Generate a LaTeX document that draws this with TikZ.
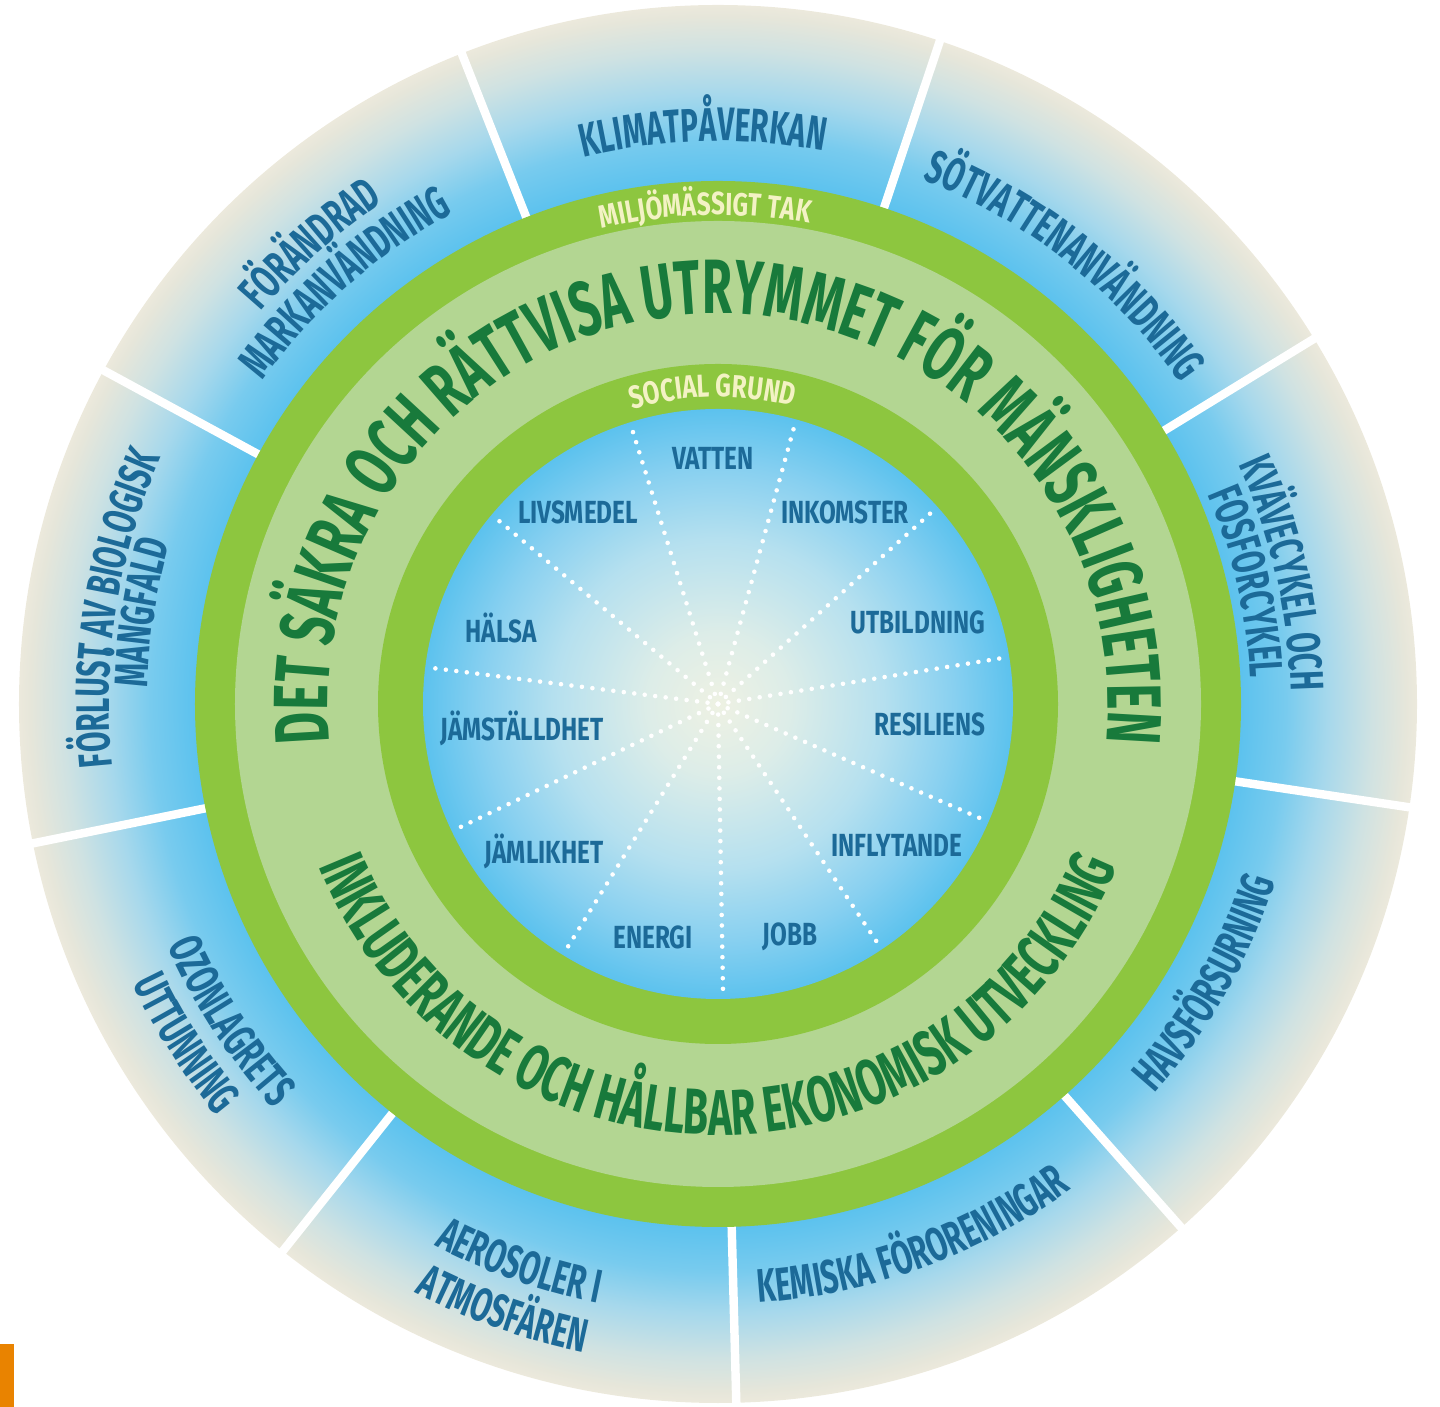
\documentclass[tikz,border=0pt]{standalone}
\usepackage{fontspec}
\setmainfont{Fira Sans}
\newfontfamily\slimfont{Fira Sans}[FakeStretch=0.63]
\newfontfamily\midfont{Fira Sans}[FakeStretch=0.76]
\usepackage{tikz}
\usetikzlibrary{decorations.text}

\definecolor{skyblue}{HTML}{5CC2EE}
\definecolor{skyblue2}{HTML}{78CBEE}
\definecolor{skyblue3}{HTML}{A6D8EC}
\definecolor{haze}{HTML}{CFE2E2}
\definecolor{haze2}{HTML}{E6E6DA}
\definecolor{sand}{HTML}{ECE9DC}
\definecolor{core}{HTML}{EEF1E3}
\definecolor{core2}{HTML}{DDEDE8}
\definecolor{mist}{HTML}{B5E0EF}
\definecolor{mist2}{HTML}{88D0F0}
\definecolor{leafgreen}{HTML}{8DC63F}
\definecolor{palegreen}{HTML}{B3D692}
\definecolor{forestgreen}{HTML}{187A3B}
\definecolor{inkblue}{HTML}{1C6A98}
\definecolor{cream}{HTML}{F3F2C4}
\definecolor{taborange}{HTML}{E98300}

\pgfdeclareradialshading{boundshade}{\pgfpoint{0bp}{0bp}}{color(0bp)=(skyblue); color(18.7bp)=(skyblue); color(20.3bp)=(skyblue2); color(21.8bp)=(skyblue3); color(23.4bp)=(haze); color(24.6bp)=(haze2); color(25bp)=(sand); color(50bp)=(sand)}
\pgfdeclareradialshading{socialshade}{\pgfpoint{0bp}{0bp}}{color(0bp)=(core); color(6bp)=(core2); color(14bp)=(mist); color(20bp)=(mist2); color(25bp)=(skyblue); color(50bp)=(skyblue)}

\newcommand{\bndfont}{\slimfont\bfseries\fontsize{13.4}{14}\selectfont\color{inkblue}}
\newcommand{\safefont}{\slimfont\bfseries\fontsize{21.9}{22}\selectfont\color{forestgreen}}
\newcommand{\econfont}{\slimfont\bfseries\fontsize{18.4}{19}\selectfont\color{forestgreen}}
\newcommand{\bandfont}{\midfont\bfseries\fontsize{9.1}{10}\selectfont\color{cream}}

\newcommand{\cwtext}[4]{\path[decorate,decoration={text along path,text align=center,text={|#3|#4}}] ({#1+100}:#2) arc[start angle={#1+100},delta angle=-200,radius=#2];}
\newcommand{\ccwtext}[4]{\path[decorate,decoration={text along path,text align=center,text={|#3|#4}}] ({#1-80}:#2) arc[start angle={#1-80},delta angle=160,radius=#2];}

\tikzset{
    divider/.style={white, line width=2.4pt},
    ray/.style={white, line width=1.3pt, line cap=round, dash pattern=on 0pt off 3pt},
    goal/.style={inkblue, inner sep=0pt, font=\midfont\bfseries\fontsize{9.1}{10}\selectfont}
}

\begin{document}
\begin{tikzpicture}[x=0.01cm,y=0.01cm]
\useasboundingbox (-718,-703) rectangle (722,704);
\coordinate (hub) at (0,0);
\shade[shading=boundshade] (hub) circle (699);
\foreach \a in {71.5,111.5,...,391.5}
  \draw[divider] (\a:521) -- (\a:705);
\cwtext{91.5}{563}{\bndfont}{KLIMATPÅVERKAN}
\cwtext{51.7}{563}{\bndfont}{SÖTVATTENANVÄNDNING}
\cwtext{13}{573}{\bndfont}{KVÄVECYKEL OCH}
\cwtext{13}{533}{\bndfont}{FOSFORCYKEL}
\cwtext{131.5}{603}{\bndfont}{FÖRÄNDRAD}
\cwtext{131.5}{558}{\bndfont}{MARKANVÄNDNING}
\cwtext{171}{609}{\bndfont}{FÖRLUST AV BIOLOGISK}
\cwtext{171}{571}{\bndfont}{MÅNGFALD}
\ccwtext{213}{601}{\bndfont}{OZONLAGRETS}
\ccwtext{212.5}{649}{\bndfont}{UTTUNNING}
\ccwtext{250.5}{611}{\bndfont}{AEROSOLER I}
\ccwtext{250.5}{662}{\bndfont}{ATMOSFÄREN}
\ccwtext{290}{600}{\bndfont}{KEMISKA FÖRORENINGAR}
\ccwtext{330.3}{585}{\bndfont}{HAVSFÖRSURNING}
\fill[leafgreen] (hub) circle (523);
\fill[palegreen] (hub) circle (483);
\fill[leafgreen] (hub) circle (340);
\shade[shading=socialshade] (hub) circle (295);
\foreach \k in {0,...,10}
  \draw[ray] (hub) -- ({271+\k*360/11}:293);
\foreach \x/\y/\p/\labeltext in {-5/246/vatten/VATTEN, 127/192/inkomster/INKOMSTER, 200/82/utbildning/UTBILDNING, 212/-20/resiliens/RESILIENS, 179/-141/inflytande/INFLYTANDE, 72/-233/jobb/JOBB, -65/-233/energi/ENERGI, -174/-147/jamlikhet/JÄMLIKHET, -196/-24/jamstalldhet/JÄMSTÄLLDHET, -217/76/halsa/HÄLSA, -140/192/livsmedel/LIVSMEDEL}{
\node[goal] (\p) at (\x,\y) {\labeltext};
}
\cwtext{90}{390}{\safefont}{DET SÄKRA OCH RÄTTVISA UTRYMMET FÖR MÄNSKLIGHETEN}
\ccwtext{-90}{431}{\econfont}{INKLUDERANDE OCH HÅLLBAR EKONOMISK UTVECKLING}
\cwtext{91.5}{489}{\bandfont}{MILJÖMÄSSIGT TAK}
\cwtext{91}{307}{\bandfont}{SOCIAL GRUND}
\fill[taborange] (-718,-640) rectangle (-704,-703);
\end{tikzpicture}
\end{document}
